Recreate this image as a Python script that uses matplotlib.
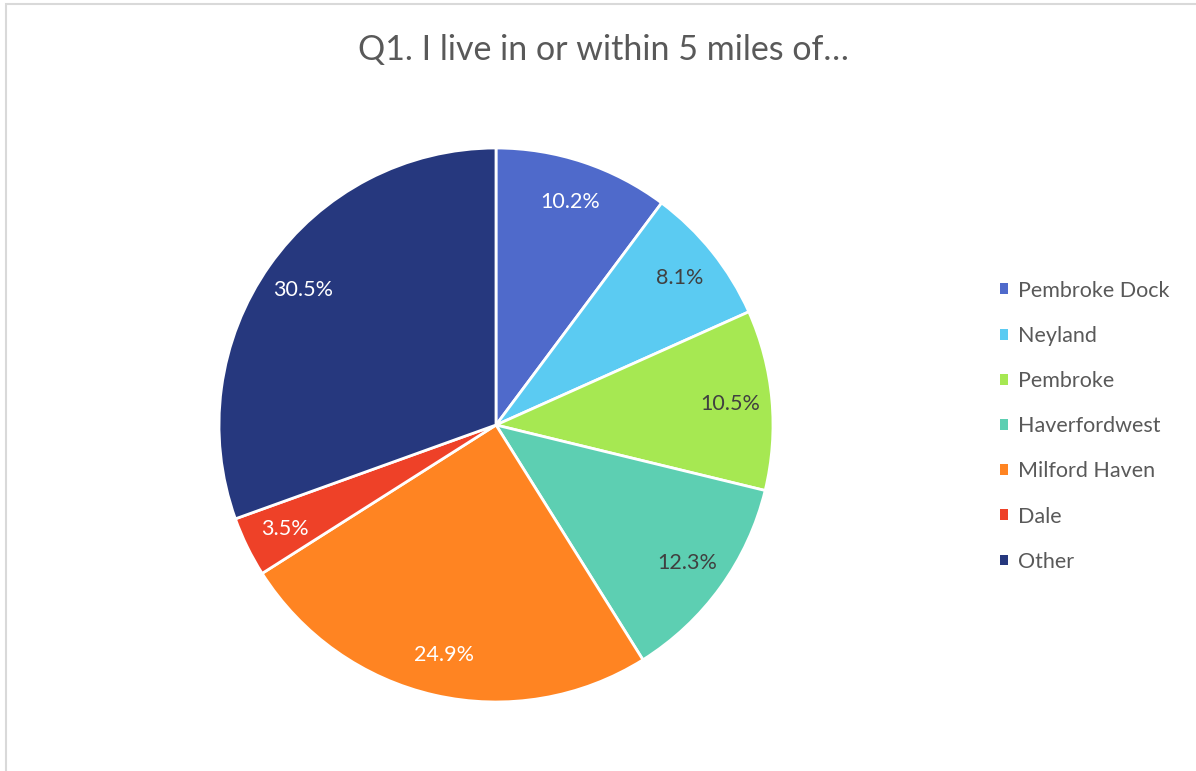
import matplotlib.pyplot as plt
from matplotlib.patches import Rectangle

plt.rcParams['font.family'] = ['Lato', 'DejaVu Sans']

towns = ['Pembroke Dock', 'Neyland', 'Pembroke', 'Haverfordwest',
         'Milford Haven', 'Dale', 'Other']
shares = [10.2, 8.1, 10.5, 12.3, 24.9, 3.5, 30.5]
colours = ['#4F6ACB', '#5BCBF2', '#A6E852', '#5DCFB2',
           '#FF8422', '#EE4128', '#26387E']
label_colours = ['white', '#404040', '#404040', '#404040',
                 'white', 'white', 'white']

fig = plt.figure(figsize=(11.96, 7.71), dpi=100)

# light frame round the chart area
fig.patches.append(Rectangle((6 / 1196, -0.01), 1.2, 1 - 4 / 771 + 0.01,
                             transform=fig.transFigure, fill=False,
                             edgecolor='#D9D9D9', linewidth=1.5))

# pie: centre (496, 425) px, radius 277 px
cx, cy, r = 496, 425, 277
ax = fig.add_axes([(cx - r) / 1196, (771 - cy - r) / 771, 2 * r / 1196, 2 * r / 771])
wedges, texts, autotexts = ax.pie(
    shares, colors=colours, startangle=90, counterclock=False,
    autopct=lambda p: f'{p:.1f}%', pctdistance=0.85,
    wedgeprops=dict(edgecolor='white', linewidth=2),
    textprops=dict(fontsize=15.5))
for t, c in zip(autotexts, label_colours):
    t.set_color(c)
ax.set_aspect('equal')
ax.set_xlim(-1, 1)
ax.set_ylim(-1, 1)

fig.text(603 / 1196, 1 - 50 / 771, 'Q1. I live in or within 5 miles of…',
         ha='center', va='center', fontsize=24.5, color='#595959')

leg = fig.legend(wedges, towns, loc='upper left',
                 bbox_to_anchor=(991 / 1196, 1 - 272 / 771),
                 frameon=False, fontsize=15.5, labelcolor='#595959',
                 handlelength=0.4, handleheight=0.4, handletextpad=0.45,
                 labelspacing=1.17, borderaxespad=0)
for h in leg.legend_handles:
    h.set_edgecolor('none')

fig.savefig('out.png', dpi=100)
